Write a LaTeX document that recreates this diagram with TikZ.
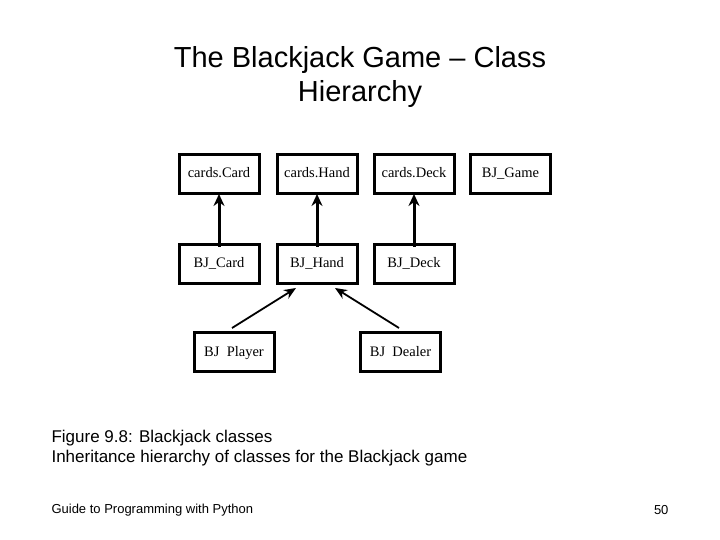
\documentclass[tikz,border=0pt]{standalone}
\usepackage{fontspec}
\setmainfont{Liberation Sans}
\newfontfamily\boxfont{Liberation Serif}
\usetikzlibrary{arrows.meta}
\begin{document}
\begin{tikzpicture}[x=1pt,y=-1pt,
  cls/.style={draw,line width=3pt,minimum width=80pt,minimum height=39pt,inner sep=0pt,text height=10pt,text depth=2pt,font=\boxfont\fontsize{14.5}{16}\selectfont},
  inh/.style={line width=3pt,-{Stealth[length=12pt,width=11pt]}},
  inhd/.style={line width=1.8pt,-{Stealth[length=12pt,width=10pt]}}]
\useasboundingbox (0,0) rectangle (720,540);
\node[font=\fontsize{29}{34}\selectfont,align=center] (title) at (360,77) {The Blackjack Game -- Class\\Hierarchy};
\node[cls] (cc) at (219,174) {cards.Card};
\node[cls] (ch) at (317,174) {cards.Hand};
\node[cls] (cd) at (414,174) {cards.Deck};
\node[cls] (bg) at (510.5,174) {BJ\_Game};
\node[cls] (bc) at (219,263.5) {BJ\_Card};
\node[cls] (bh) at (317,263.5) {BJ\_Hand};
\node[cls] (bd) at (414,263.5) {BJ\_Deck};
\node[cls] (bp) at (234,352) {BJ\ \ Player};
\node[cls] (bl) at (400.5,352) {BJ\ \ Dealer};
\draw[inh] ([yshift=-4pt]bc.north) -- ([yshift=1pt]cc.south);
\draw[inh] ([yshift=-4pt]bh.north) -- ([yshift=1pt]ch.south);
\draw[inh] ([yshift=-4pt]bd.north) -- ([yshift=1pt]cd.south);
\coordinate (p1) at (232,328);
\coordinate (p2) at (296,288);
\coordinate (d1) at (399,328);
\coordinate (d2) at (335,288);
\draw[inhd] (p1) -- (p2);
\draw[inhd] (d1) -- (d2);
\node[font=\fontsize{17}{20}\selectfont,align=left,anchor=north west] (cap) at (48,427) {Figure 9.8: Blackjack classes\\Inheritance hierarchy of classes for the Blackjack game};
\node[font=\fontsize{13}{15}\selectfont,anchor=west] (foot) at (48,510) {Guide to Programming with Python};
\node[font=\fontsize{13}{15}\selectfont,anchor=east] (num) at (672,510) {50};
\end{tikzpicture}
\end{document}
